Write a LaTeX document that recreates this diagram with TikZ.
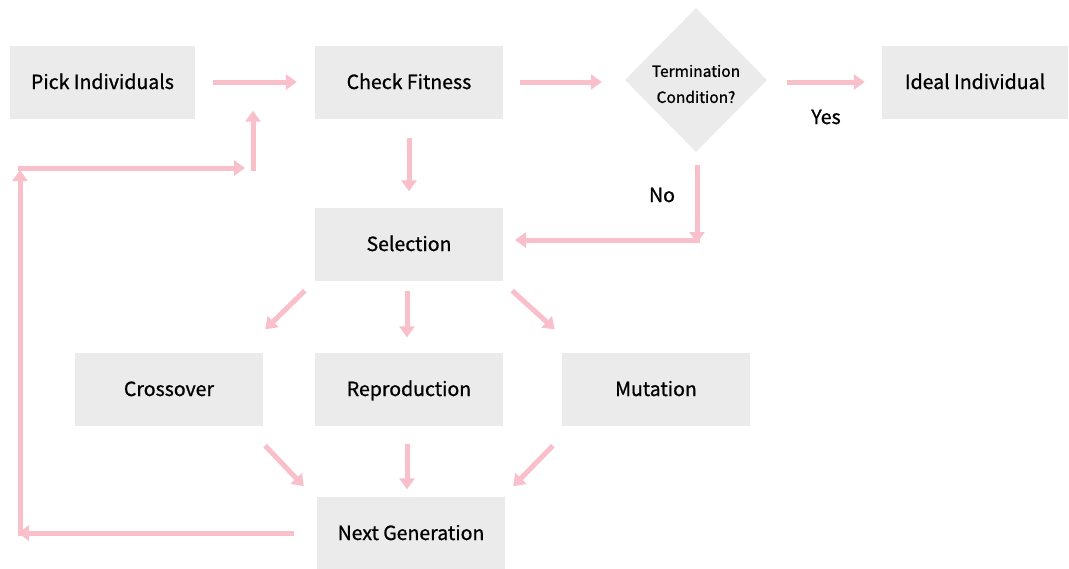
\documentclass[tikz,border=0pt]{standalone}
\usepackage{fontspec}
\setmainfont{Noto Sans CJK SC}[FakeBold=0.9]
\usetikzlibrary{arrows.meta,shapes.geometric}
\definecolor{boxgray}{HTML}{EBEBEB}
\definecolor{arrowpink}{HTML}{F9BFCB}
\begin{document}
\begin{tikzpicture}[x=1pt,y=-1pt,
  stepbox/.style={fill=boxgray, minimum width=188pt, minimum height=73pt,
    inner sep=0pt, text height=16pt, text depth=2pt,
    font=\fontsize{19.5}{22}\selectfont},
  arr/.style={draw=arrowpink, line width=5pt,
    -{Triangle[width=15pt,length=11pt]}},
  lbl/.style={font=\fontsize{19.5}{22}\selectfont}]
\useasboundingbox[fill=white] (0,0) rectangle (1069,568);

% process steps
\node[stepbox, minimum width=185pt] (pick) at (102.5,82) {Pick Individuals};
\node[stepbox] (check) at (409,82) {Check Fitness};
\node[diamond, fill=boxgray, minimum width=142pt, minimum height=144pt,
  inner sep=0pt] (term) at (696,80) {};
\node[align=center, font=\fontsize{15.5}{26}\selectfont]
  (termtext) at ([yshift=-4pt]term.center) {Termination\\Condition?};
\node[stepbox, minimum width=186pt] (ideal) at (975,82) {Ideal Individual};
\node[stepbox] (sel) at (409,244) {Selection};
\node[stepbox] (cross) at (169,389) {Crossover};
\node[stepbox] (rep) at (409,389) {Reproduction};
\node[stepbox] (mut) at (656,389) {Mutation};
\node[stepbox] (ng) at (411,533) {Next Generation};

% top row
\coordinate (tw) at (term.west |- check.east);
\coordinate (te) at (term.east |- ideal.west);
\draw[arr] ([xshift=18pt]pick.east) -- ([xshift=-18pt]check.west);
\draw[arr] ([xshift=17pt]check.east) -- ([xshift=-23pt]tw);
\draw[arr] ([xshift=20pt]te) -- ([xshift=-17pt]ideal.west);
\node[lbl] (yes) at (826,117) {Yes};

% fitness check to selection
\draw[arr] ([yshift=-19pt]check.south) -- ([yshift=16pt]sel.north);

% "No" branch back to selection
\coordinate (nocorner) at (697,240);
\draw[arr] ([xshift=1pt,yshift=-13pt]term.south) -- ([yshift=-3pt]nocorner);
\draw[arr] ([xshift=3pt]nocorner) -- (515,240);
\node[lbl] (no) at (662,195) {No};

% selection to operators
\draw[arr] ([xshift=-10pt,yshift=-10pt]sel.south west) -- ([xshift=2pt,yshift=23pt]cross.north east);
\draw[arr] ([xshift=-2pt,yshift=-10pt]sel.south) -- ([xshift=-2pt,yshift=15pt]rep.north);
\draw[arr] ([xshift=9pt,yshift=-10pt]sel.south east) -- ([xshift=-7pt,yshift=23pt]mut.north west);

% operators to next generation
\draw[arr] ([xshift=2pt,yshift=-20pt]cross.south east) -- ([xshift=-13pt,yshift=10pt]ng.north west);
\draw[arr] ([xshift=-2pt,yshift=-18pt]rep.south) -- ([xshift=-4pt,yshift=7pt]ng.north);
\draw[arr] ([xshift=-9pt,yshift=-20pt]mut.south west) -- ([xshift=8pt,yshift=10pt]ng.north east);

% loop back to the fitness check
\coordinate (lb) at (20,533);
\coordinate (lt) at (20,168);
\coordinate (lr) at (253,168);
\coordinate (lrtop) at (lr |- check.south);
\draw[arr] ([xshift=-23pt]ng.west) -- ([xshift=-2pt]lb);
\draw[arr] ([yshift=-3pt]lb) -- ([yshift=-2pt]lt);
\draw[arr] ([xshift=-2pt]lt) -- ([xshift=-8pt]lr);
\draw[arr] ([yshift=-3pt]lr) -- ([yshift=8pt]lrtop);
\end{tikzpicture}
\end{document}
